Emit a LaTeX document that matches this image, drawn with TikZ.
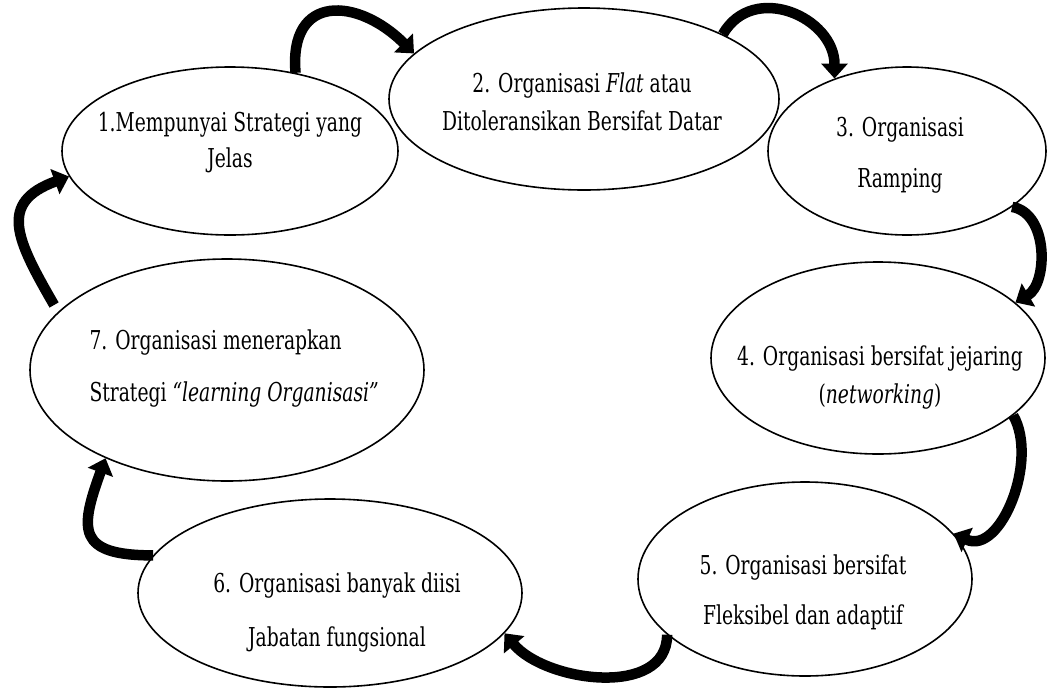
\documentclass[tikz,border=0pt]{standalone}
\usepackage{fontspec}
\setmainfont{DejaVu Serif}[FakeStretch=0.72]
\usetikzlibrary{shapes.geometric,arrows.meta}

\tikzset{oval/.style={draw, ellipse, line width=1.6pt, inner sep=0pt},
         txt/.style={align=center, font=\fontsize{26}{36}\selectfont},
         curv/.style={line width=10.5pt, -{Triangle[width=26pt,length=15pt]}}}

\begin{document}
\begin{tikzpicture}[x=1pt, y=-1pt]
\useasboundingbox (0,0) rectangle (1047,689);
%
             \node [oval, minimum width=336, minimum height=168] at (230,151) (e1) {};
              \node [oval, minimum width=390, minimum height=182] at (584,99) (e2) {};
                   \node [oval, minimum width=278, minimum height=168] at (907,151) (e3) {};
                       \node [oval, minimum width=334, minimum height=192] at (878,358) (e4) {};
                        \node [oval, minimum width=334, minimum height=194] at (805,579) (e5) {};
                        \node [oval, minimum width=384, minimum height=188] at (330,593) (e6) {};
                          \node [oval, minimum width=394, minimum height=222] at (227,370) (e7) {};
%
             \node [txt] at (230,143) (t1) {1.Mempunyai Strategi yang\\Jelas};
              \node [txt] at (582,102) (t2) {2. Organisasi \textit{Flat} atau\\[2pt]Ditoleransikan Bersifat Datar};
                   \node [txt] at (900,155) (t3) {3. Organisasi\\[15pt]Ramping};
                       \node [txt] at (880,378) (t4) {4. Organisasi bersifat jejaring\\[2pt](\textit{networking})};
                        \node [txt] at (803,592) (t5) {5. Organisasi bersifat\\[14pt]Fleksibel dan adaptif};
                        \node [txt] at (337,612) (t6) {6. Organisasi banyak diisi\\[18pt]Jabatan fungsional};
                          \node [txt, align=left, anchor=west] at (86,369) (t7) {7. Organisasi menerapkan\\[16pt]Strategi \textit{``learning Organisasi''}};
%
\draw[curv] (e1.50) to[out=95, in=135, looseness=1.7] (e2.165);
\draw[curv] (e2.25) to[out=60, in=90, looseness=1.3] (e3.135);
\draw[curv] (e3.-28) to[out=-10, in=30] (e4.22);
\draw[curv] (e4.-23) to[out=-60, in=-25] (e5.17);
\draw[curv] (e5.202) to[out=-90, in=-50] (e6.-13);
\draw[curv] (e6.168) to[out=180, in=-110, looseness=1.8] (e7.216);
\draw[curv] ([xshift=-12pt]e7.158) to[out=120, in=200, looseness=1.5] (e1.189);
\end{tikzpicture}
\end{document}
